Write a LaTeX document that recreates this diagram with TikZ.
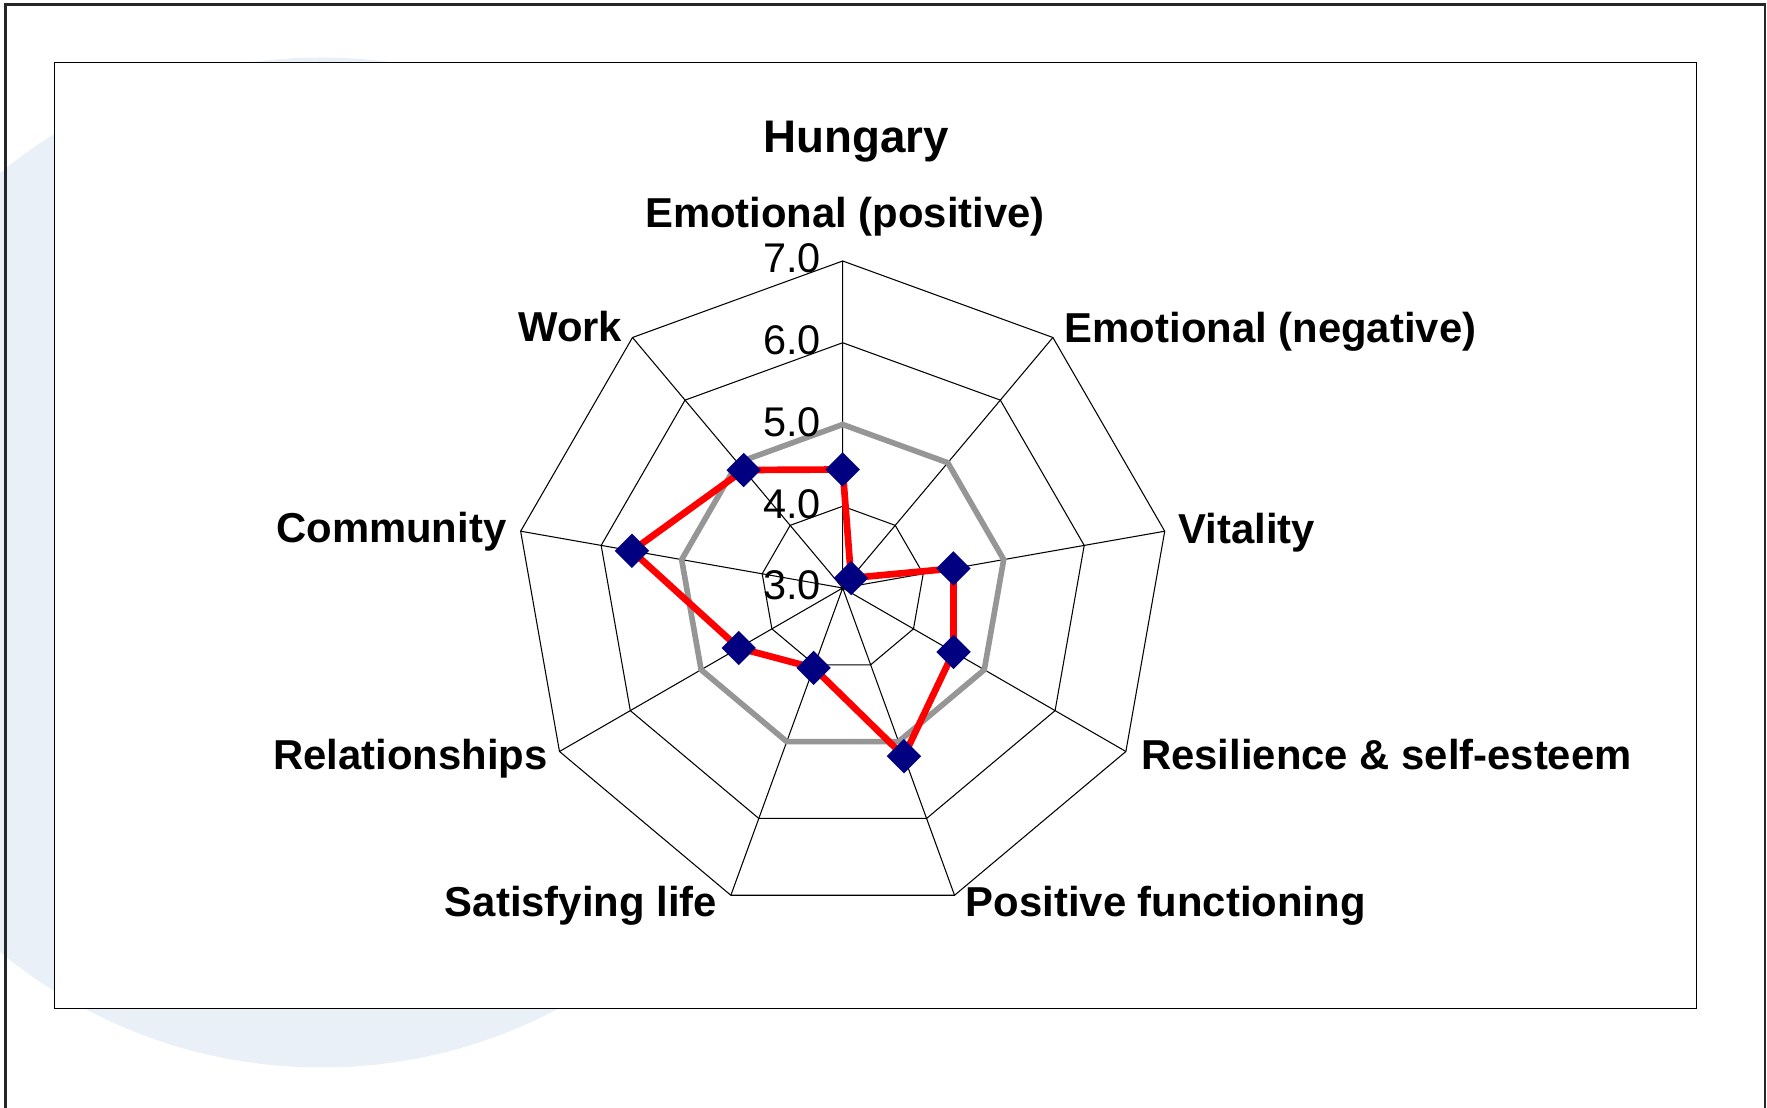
\documentclass[tikz,border=0pt]{standalone}
\usepackage{fontspec}
\setmainfont{Liberation Sans}
\usetikzlibrary{shapes.geometric}

\definecolor{chartnavy}{RGB}{0,0,128}
\definecolor{chartgray}{RGB}{150,150,150}
\definecolor{bgblue}{RGB}{234,240,247}

\begin{document}
\begin{tikzpicture}[
	x=0.1mm,
	y=0.1mm,
	webline/.style={
		color=black,
		line width=0.3pt
	},
	avgline/.style={
		color=chartgray,
		line width=1.6pt
	},
	scoreline/.style={
		color=red,
		line width=1.9pt
	},
	datapt/.style={
		diamond,
		fill=chartnavy,
		inner sep=0pt,
		minimum width=3.5mm,
		minimum height=3.5mm
	},
	axislabel/.style={
		inner sep=0pt,
		font=\fontsize{11.9}{14}\selectfont\bfseries
	},
	ticklabel/.style={
		inner sep=0pt,
		anchor=base east,
		font=\fontsize{11.8}{14}\selectfont
	}
]
	\useasboundingbox (-842.7,-520) rectangle (924.3,588);
	\clip (-842.7,-520) rectangle (924.3,588);
	\fill[
		color=bgblue
	] (-521.2,25.5) circle (505);
	\draw[
		fill=white,
		line width=0.4pt
	] (-788.1,-420.3) rectangle (853.8,525.3);
	\draw[
		color=black!85,
		line width=0.85pt
	] (-836.7,-530) -- (-836.7,583) -- (922.3,583) -- (922.3,-530);

	\draw[
		webline
	] (90:81.75) -- (50:81.75) -- (10:81.75) -- (-30:81.75) -- (-70:81.75) -- (-110:81.75) -- (-150:81.75) -- (170:81.75) -- (130:81.75) -- cycle;
	\draw[
		webline
	] (90:163.5) -- (50:163.5) -- (10:163.5) -- (-30:163.5) -- (-70:163.5) -- (-110:163.5) -- (-150:163.5) -- (170:163.5) -- (130:163.5) -- cycle;
	\draw[
		webline
	] (90:245.25) -- (50:245.25) -- (10:245.25) -- (-30:245.25) -- (-70:245.25) -- (-110:245.25) -- (-150:245.25) -- (170:245.25) -- (130:245.25) -- cycle;
	\draw[
		webline
	] (90:327) -- (50:327) -- (10:327) -- (-30:327) -- (-70:327) -- (-110:327) -- (-150:327) -- (170:327) -- (130:327) -- cycle;
	\draw[
		webline
	] (0,0) -- (90:327) (0,0) -- (50:327) (0,0) -- (10:327) (0,0) -- (-30:327) (0,0) -- (-70:327)
	  (0,0) -- (-110:327) (0,0) -- (-150:327) (0,0) -- (170:327) (0,0) -- (130:327);

	\draw[
		avgline
	] (90:163.5) -- (50:163.5) -- (10:163.5) -- (-30:163.5) -- (-70:163.5) -- (-110:163.5) -- (-150:163.5) -- (170:163.5) -- (130:163.5) -- cycle;

	\coordinate (emopos) at (90:118.5);
	\coordinate (emoneg) at (50:13);
	\coordinate (vitality) at (10:112.5);
	\coordinate (resil) at (-30:128);
	\coordinate (posfun) at (-70:179);
	\coordinate (satlife) at (-110:85);
	\coordinate (relat) at (-150:120);
	\coordinate (commun) at (170:214);
	\coordinate (work) at (130:154);
	\draw[
		scoreline
	] (emopos) -- (emoneg) -- (vitality) -- (resil) -- (posfun) -- (satlife) -- (relat) -- (commun) -- (work) -- cycle;
	\node[datapt] (emopos-d) at (emopos) {};
	\node[datapt] (emoneg-d) at (emoneg) {};
	\node[datapt] (vitality-d) at (vitality) {};
	\node[datapt] (resil-d) at (resil) {};
	\node[datapt] (posfun-d) at (posfun) {};
	\node[datapt] (satlife-d) at (satlife) {};
	\node[datapt] (relat-d) at (relat) {};
	\node[datapt] (commun-d) at (commun) {};
	\node[datapt] (work-d) at (work) {};

	\node[ticklabel] (tick3) at (-21,-12) {3.0};
	\node[ticklabel] (tick4) at (-21,69.75) {4.0};
	\node[ticklabel] (tick5) at (-21,151.5) {5.0};
	\node[ticklabel] (tick6) at (-21,233.25) {6.0};
	\node[ticklabel] (tick7) at (-21,315) {7.0};

	\node[
		axislabel,
		anchor=base,
		font=\fontsize{13}{15.6}\selectfont\bfseries
	] (title) at (13.8,435.7) {Hungary};
	\node[axislabel, anchor=base] (lab-emopos) at (2.3,360) {Emotional (positive)};
	\node[axislabel, anchor=base west] (lab-emoneg) at (221.5,245.5) {Emotional (negative)};
	\node[axislabel, anchor=base west] (lab-vitality) at (335.3,44.6) {Vitality};
	\node[axislabel, anchor=base west] (lab-resil) at (297.8,-181.5) {Resilience \& self-esteem};
	\node[axislabel, anchor=base west] (lab-posfun) at (122.5,-328.8) {Positive functioning};
	\node[axislabel, anchor=base east] (lab-satlife) at (-125.1,-328.8) {Satisfying life};
	\node[axislabel, anchor=base east] (lab-relat) at (-294.4,-181.5) {Relationships};
	\node[axislabel, anchor=base east] (lab-commun) at (-335.7,45.3) {Community};
	\node[axislabel, anchor=base east] (lab-work) at (-219.9,246.2) {Work};
\end{tikzpicture}
\end{document}
